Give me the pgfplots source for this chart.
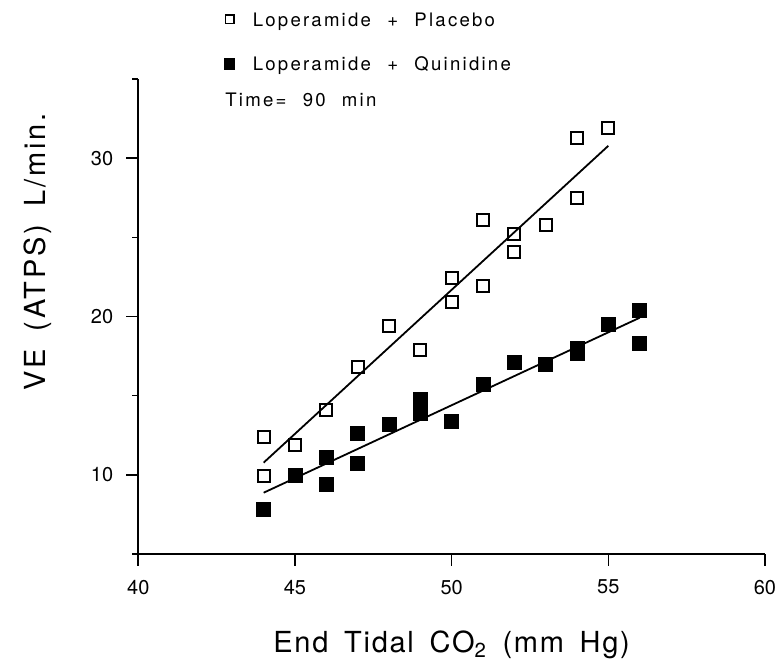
\documentclass[border=0pt]{standalone}
\usepackage{fontspec}
\setmainfont{TeX Gyre Heros}
\newfontfamily\lfont[LetterSpace=12, WordSpace=2.2]{TeX Gyre Heros}
\newfontfamily\ylabfont[LetterSpace=10, WordSpace=1.6]{TeX Gyre Heros}
\newfontfamily\xlabfont[LetterSpace=6, WordSpace=1.6]{TeX Gyre Heros}
\usepackage{pgfplots}
\usepackage{pgfplotstable}
\pgfplotsset{compat=1.18}

\pgfplotstableread{
x y
44 12.4
44 9.9
45 11.9
46 14.1
47 16.8
48 19.4
49 17.9
50 20.9
50 22.4
51 21.9
51 26.1
52 24.1
52 25.2
53 25.8
54 27.5
54 31.3
55 31.9
}\placebo

\pgfplotstableread{
x y
44 7.8
45 10.0
46 11.1
46 9.4
47 12.6
47 10.7
48 13.2
49 14.8
49 13.9
50 13.4
51 15.7
52 17.1
53 17.0
54 18.0
54 17.7
55 19.5
56 20.4
56 18.3
}\quinidine

\begin{document}
\begin{tikzpicture}
\useasboundingbox (-69.15pt,-54.5pt) rectangle (319.85pt,277pt);
\begin{axis}[
  at={(0pt,0pt)}, anchor=south west,
  scale only axis, width=313.35pt, height=237.5pt,
  xmin=40, xmax=60, ymin=5, ymax=35,
  axis x line=bottom, axis y line=left,
  axis line style={-, line width=1pt},
  xtick={40,45,...,60}, ytick={10,20,30}, minor ytick={5,15,25,35},
  tick align=outside, major tick length=6pt, minor tick length=3pt,
  every tick/.style={black, line width=0.8pt},
  /pgf/number format/assume math mode=true,
  tick label style={font=\fontsize{10}{12}\selectfont},
  xticklabel style={yshift=-3.5pt},
  yticklabel style={xshift=-3pt},
  every axis x label/.style={at={(rel axis cs:0.5,-0.2084)}, anchor=base, font=\xlabfont\fontsize{14.5}{16}\selectfont},
  every axis y label/.style={at={(rel axis cs:-0.16,0.636)}, rotate=90, anchor=center, font=\ylabfont\fontsize{14.5}{16}\selectfont},
  xlabel={End Tidal CO\textsubscript{2} (mm Hg)},
  ylabel={VE (ATPS) L/min.},
  legend style={draw=none, fill=none, at={(rel axis cs:0.1368,1.1394)}, anchor=north west,
    font=\lfont\fontsize{9.3}{11}\selectfont, inner sep=0pt, outer sep=0pt,
    row sep=15.5pt, column sep=8.8pt,
    nodes={inner sep=0pt, outer sep=0pt, text height=6.7pt, text depth=0pt}},
  legend cell align=left,
  clip=false,
]
\addplot[black, line width=0.9pt, forget plot] coordinates {(44,10.77) (55,30.78)};
\addplot[black, line width=0.9pt, forget plot] coordinates {(44,8.87) (56,19.92)};
\addplot[only marks, mark=square, mark size=3pt, mark options={black, line width=1pt},
  legend image code/.code={\draw[black, line width=0.8pt] (-2.1pt,-2.1pt) rectangle (2.1pt,2.1pt);}]
  table[x=x,y=y] {\placebo};
\addlegendentry{Loperamide + Placebo}
\addplot[only marks, mark=square*, mark size=3.5pt, mark options={black, fill=black, line width=0.3pt},
  legend image code/.code={\fill[black] (-2.6pt,-2.6pt) rectangle (2.6pt,2.6pt);}]
  table[x=x,y=y] {\quinidine};
\addlegendentry{Loperamide + Quinidine}
\node[anchor=base west, inner sep=0pt, font=\lfont\fontsize{9.3}{11}\selectfont] at (rel axis cs:0.1383,0.9417) {Time= 90 min};
\end{axis}
\end{tikzpicture}
\end{document}
